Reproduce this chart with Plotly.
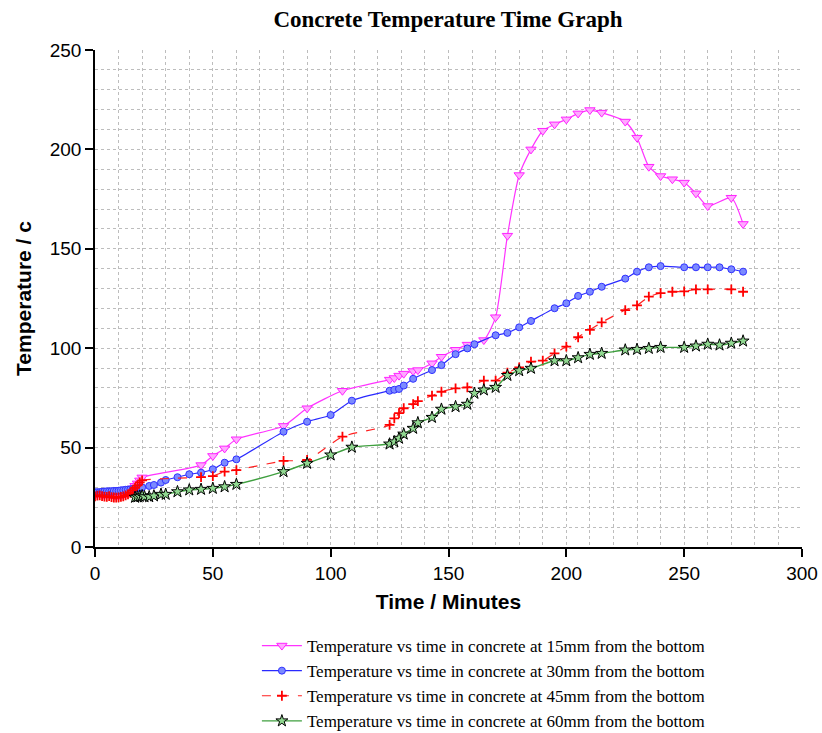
import plotly.graph_objects as go

# ---- data ----
t_15 = [0, 1, 2, 3, 4, 5, 6, 7, 8, 9, 10, 11, 12, 13, 14, 15, 16, 17, 18, 19, 20,
        45, 50, 55, 60, 80, 90, 105, 125, 127, 129, 131, 135, 137, 143, 147, 153, 158,
        165, 170, 175, 180, 185, 190, 195, 200, 205, 210, 215, 225, 230, 235, 240, 245,
        250, 255, 260, 270, 275]
T_15 = [26.5, 26.8, 27.0, 26.6, 26.3, 26.5, 26.7, 26.2, 26.0, 25.8, 25.9, 26.1, 26.4,
        27.0, 27.5, 28.2, 29.5, 30.8, 32.0, 33.5, 35.0,
        41.2, 45.8, 49.6, 54.2, 60.9, 69.8, 78.6, 84.2, 85.0, 86.2, 87.2, 88.5, 89.0,
        92.4, 95.7, 99.2, 101.8, 104.1, 115.6, 156.6, 187.1, 200.0, 209.4, 212.6,
        215.1, 218.1, 219.8, 218.5, 214.0, 205.9, 191.3, 186.6, 185.0, 183.3, 177.9,
        171.5, 175.7, 162.5]

t_30 = [0, 1, 2, 3, 4, 5, 6, 7, 8, 9, 10, 11, 12, 13, 14, 15, 16, 17, 18, 19, 20,
        23, 25, 28, 30, 35, 40, 45, 50, 55, 60, 80, 90, 100, 109, 125, 127, 129, 131,
        135, 143, 147, 153, 158, 161, 170, 175, 180, 185, 195, 200, 205, 210, 215, 225,
        230, 235, 240, 250, 255, 260, 265, 270, 275]
T_30 = [27.5, 27.6, 27.6, 27.8, 27.9, 28.0, 28.0, 28.1, 28.2, 28.2, 28.3, 28.5, 28.6,
        28.8, 28.9, 29.0, 29.2, 29.4, 29.6, 29.8, 30.0,
        30.7, 31.2, 32.4, 33.7, 35.1, 36.6, 37.4, 39.1, 42.4, 44.1, 58.0, 63.0, 66.4,
        73.6, 78.6, 79.1, 79.5, 81.2, 84.6, 89.0, 91.5, 97.0, 99.9, 102.0, 106.5,
        107.7, 110.5, 113.7, 120.1, 122.6, 126.3, 128.4, 130.9, 135.0, 138.5, 140.7,
        141.3, 140.7, 140.7, 140.7, 140.7, 139.7, 138.5]

t_45 = [0, 1, 2, 3, 4, 5, 6, 7, 8, 9, 10, 11, 12, 13, 14, 15, 16, 17, 18, 19, 20,
        45, 50, 55, 60, 80, 90, 105, 125, 127, 129, 131, 135, 137, 143, 147, 153, 158,
        165, 170, 175, 180, 185, 190, 195, 200, 205, 210, 215, 225, 230, 235, 240, 245,
        250, 255, 260, 270, 275]
T_45 = [25.5, 25.8, 26.0, 25.6, 25.3, 25.2, 25.6, 25.1, 24.9, 24.8, 25.0, 25.2, 25.5,
        26.0, 26.5, 27.3, 28.5, 29.8, 31.0, 32.5, 33.5,
        35.1, 35.7, 37.9, 38.7, 43.3, 43.8, 55.5, 61.4, 64.7, 67.3, 69.8, 71.9, 73.4,
        76.1, 78.1, 79.8, 80.3, 83.7, 83.7, 87.7, 90.4, 93.2, 93.7, 97.4, 100.8, 105.5,
        109.2, 113.0, 119.2, 121.5, 125.9, 127.7, 128.4, 128.6, 129.6, 129.6, 129.6,
        128.4]

t_60 = [17, 18, 19, 20, 21, 23, 25, 28, 30, 35, 40, 45, 50, 55, 60, 80, 90, 100, 109,
        125, 127, 129, 131, 135, 137, 143, 147, 153, 158, 161, 165, 170, 175, 180, 185,
        195, 200, 205, 210, 215, 225, 230, 235, 240, 250, 255, 260, 265, 270, 275]
T_60 = [25.0, 25.2, 25.5, 25.8, 25.3, 25.3, 25.7, 26.5, 26.5, 27.8, 28.7, 29.0, 29.5,
        30.3, 31.5, 37.9, 42.1, 46.3, 50.2, 51.8, 52.9, 54.7, 56.8, 59.7, 62.5, 65.2,
        69.3, 70.6, 71.8, 77.3, 79.0, 80.3, 86.3, 88.7, 89.9, 93.7, 93.7, 95.2, 96.9,
        97.4, 99.1, 99.4, 99.9, 100.4, 100.4, 101.1, 102.0, 101.6, 102.5, 103.6]

names = ["Temperature vs time in concrete at 15mm from the bottom",
         "Temperature vs time in concrete at 30mm from the bottom",
         "Temperature vs time in concrete at 45mm from the bottom",
         "Temperature vs time in concrete at 60mm from the bottom"]

title_text = "Concrete Temperature Time Graph"
x_title = "Time / Minutes"
y_title = "Temperature / c"

fig = go.Figure()

fig.add_trace(go.Scatter(
    x=t_15, y=T_15, name=names[0], mode="lines+markers",
    line=dict(color="#ff33ff", width=1.2, shape="spline", smoothing=0.6),
    marker=dict(symbol="triangle-down", size=9, color="#ffa8ff",
                line=dict(color="#ff22ff", width=1))))

fig.add_trace(go.Scatter(
    x=t_30, y=T_30, name=names[1], mode="lines+markers",
    line=dict(color="#2a2aff", width=1.2, shape="spline", smoothing=0.6),
    marker=dict(symbol="circle", size=7, color="#7b8aff",
                line=dict(color="#3030ff", width=1))))

fig.add_trace(go.Scatter(
    x=t_45, y=T_45, name=names[2], mode="lines+markers",
    line=dict(color="#ff2020", width=1.2, dash="dash", shape="spline", smoothing=0.6),
    marker=dict(symbol="cross-thin", size=7, color="#ff0000",
                line=dict(color="#ff0000", width=1.8))))

fig.add_trace(go.Scatter(
    x=t_60, y=T_60, name=names[3], mode="lines+markers",
    line=dict(color="#3f9f3f", width=1.4, shape="spline", smoothing=0.6),
    marker=dict(symbol="star", size=9, color="#90d890",
                line=dict(color="#000000", width=1))))

grid_color = "#bdbdbd"

fig.update_layout(
    width=822, height=733,
    paper_bgcolor="white", plot_bgcolor="white",
    margin=dict(l=95, r=20, t=50, b=186, autoexpand=False),
    title=dict(text=title_text, x=0.545, xref="container", xanchor="center",
               y=1 - 19 / 733, yref="container", yanchor="middle",
               font=dict(family="Liberation Serif", size=23, color="black", weight="bold")),
    xaxis=dict(
        range=[0, 300], dtick=50, tick0=0,
        showline=True, linecolor="black", linewidth=1.5,
        ticks="outside", ticklen=8, tickwidth=1.5, tickcolor="black",
        tickfont=dict(family="Liberation Sans", size=19, color="black"),
        showgrid=True, gridcolor=grid_color, griddash="dot", gridwidth=1,
        minor=dict(dtick=10, showgrid=True, gridcolor=grid_color, griddash="dot",
                   gridwidth=1, ticks=""),
        zeroline=False,
        title=dict(text=x_title, standoff=12,
                   font=dict(family="Liberation Sans", size=21, color="black", weight="bold")),
    ),
    yaxis=dict(
        range=[0, 250], dtick=50, tick0=0,
        showline=True, linecolor="black", linewidth=1.5,
        ticks="outside", ticklen=8, tickwidth=1.5, tickcolor="black",
        tickfont=dict(family="Liberation Sans", size=19, color="black"),
        showgrid=True, gridcolor=grid_color, griddash="dot", gridwidth=1,
        minor=dict(dtick=10, showgrid=True, gridcolor=grid_color, griddash="dot",
                   gridwidth=1, ticks=""),
        zeroline=False,
        title=dict(text=y_title, standoff=12,
                   font=dict(family="Liberation Sans", size=21, color="black", weight="bold")),
    ),
    legend=dict(
        x=0.229, xanchor="left", xref="paper",
        y=1 - 628 / 733, yanchor="top", yref="container",
        font=dict(family="Liberation Serif", size=17, color="black"),
        bgcolor="rgba(0,0,0,0)", tracegroupgap=0, itemwidth=40,
    ),
    showlegend=True,
)

fig.write_html("out.html")
